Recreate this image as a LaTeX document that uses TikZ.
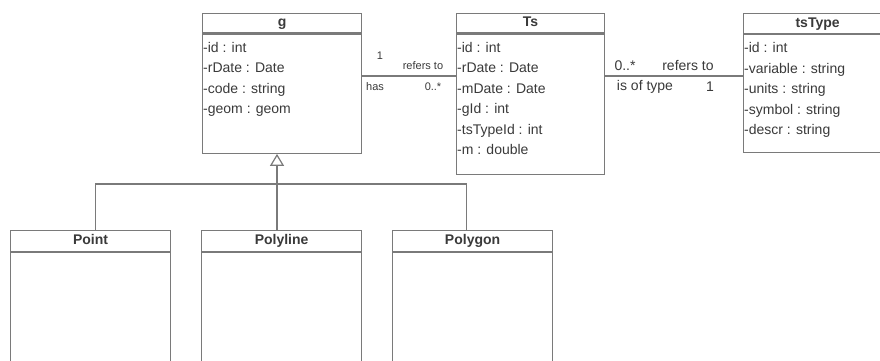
\documentclass[tikz,border=0pt]{standalone}
\usepackage{fontspec}
\setmainfont{Liberation Sans}
\usetikzlibrary{arrows.meta, positioning}
\definecolor{umlgray}{RGB}{122, 122, 122}
\definecolor{umltext}{RGB}{58, 58, 58}
\tikzset{
  umlline/.style={draw=umlgray, line width=1.2pt},
  classtitle/.style={umlline, rectangle, anchor=north west, inner sep=0pt, minimum height=19.5pt,
    font=\fontsize{14}{16}\selectfont\bfseries, text=umltext, text height=10pt, text depth=3pt},
  classbody/.style={umlline, rectangle, inner sep=0pt, below=0pt of #1},
  attrs/.style={anchor=north west, align=left, inner xsep=1pt, inner ysep=8pt,
    font=\fontsize{14}{20.5}\selectfont, text=umltext},
  smalllabel/.style={inner sep=0pt, font=\fontsize{11}{13}\selectfont, text=umltext},
  biglabel/.style={inner sep=0pt, font=\fontsize{14}{16}\selectfont, text=umltext},
  generalize/.style={umlline, -{Triangle[open, width=14pt, length=12pt, line width=1.2pt, fill=white]}}
}
\begin{document}
\begin{tikzpicture}[x=1pt, y=-1pt]
  \useasboundingbox[fill=white] (0,0) rectangle (880,361);

  % top row
  \node[classtitle, minimum width=159pt] (gTitle) at (202,13) {g};
  \node[classbody=gTitle, minimum width=159pt, minimum height=119pt] (gBody) {};
  \node[attrs] (gAttrs) at (gBody.north west) {-id : int\\-rDate : Date\\-code : string\\-geom : geom};

  \node[classtitle, minimum width=148pt] (tsTitle) at (456,13) {Ts};
  \node[classbody=tsTitle, minimum width=148pt, minimum height=140pt] (tsBody) {};
  \node[attrs] (tsAttrs) at (tsBody.north west) {-id : int\\-rDate : Date\\-mDate : Date\\-gId : int\\-tsTypeId : int\\-m : double};

  \node[classtitle, minimum width=148pt, minimum height=20pt] (typeTitle) at (743,13) {tsType};
  \node[classbody=typeTitle, minimum width=148pt, minimum height=118pt] (typeBody) {};
  \node[attrs] (typeAttrs) at (typeBody.north west) {-id : int\\-variable : string\\-units : string\\-symbol : string\\-descr : string};

  % bottom row
  \node[classtitle, minimum width=160pt, minimum height=21pt] (pointTitle) at (10,230) {Point};
  \node[classbody=pointTitle, minimum width=160pt, minimum height=150pt] (pointBody) {};

  \node[classtitle, minimum width=160pt, minimum height=21pt] (polylineTitle) at (201,230) {Polyline};
  \node[classbody=polylineTitle, minimum width=160pt, minimum height=150pt] (polylineBody) {};

  \node[classtitle, minimum width=160pt, minimum height=21pt] (polygonTitle) at (392,230) {Polygon};
  \node[classbody=polygonTitle, minimum width=160pt, minimum height=150pt] (polygonBody) {};

  % generalization
  \coordinate (split) at (277,184);
  \draw[umlline] ([xshift=5pt]pointTitle.north) |- (split) -| ([xshift=-6pt]polygonTitle.north);
  \draw[generalize] (polylineTitle.north -| split) -- (gBody.south -| split);

  % associations
  \coordinate (assocY) at (0,76);
  \draw[umlline] (gBody.east |- assocY) -- (tsBody.west |- assocY);
  \draw[umlline] (tsBody.east |- assocY) -- (typeBody.west |- assocY);

  \node[smalllabel] (gOne) at (380,56) {1};
  \node[smalllabel] (gRefers) at (423,66) {refers to};
  \node[smalllabel] (gHas) at (375,87) {has};
  \node[smalllabel] (gMany) at (433,87) {0..*};

  \node[biglabel] (typeMany) at (625,66) {0..*};
  \node[biglabel] (typeRefers) at (688,66) {refers to};
  \node[biglabel] (typeIs) at (645,87) {is of type};
  \node[biglabel] (typeOne) at (710,87) {1};
\end{tikzpicture}
\end{document}
